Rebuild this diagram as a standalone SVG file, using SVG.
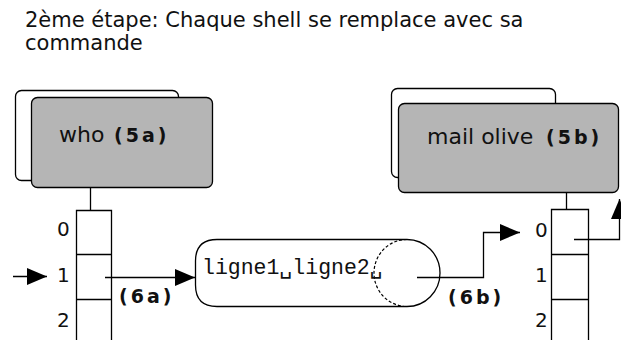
<svg xmlns="http://www.w3.org/2000/svg" width="621" height="340" viewBox="0 0 621 340">
<defs>
<style>
.t{font-family:"DejaVu Sans",Verdana,sans-serif;fill:#111}
.title{font-size:21px}
.node{font-size:22px}
.num{font-size:20px}
.b{font-family:"DejaVu Sans",Verdana,sans-serif;font-weight:bold;font-size:19px;letter-spacing:3px;fill:#111}
.mono{font-family:"Liberation Mono","DejaVu Sans Mono",monospace;font-size:21.5px;fill:#111}
.back{fill:#fff;stroke:#000;stroke-width:1.3}
.front{fill:#b5b5b5;stroke:#000;stroke-width:1.3}
.ln{fill:none;stroke:#000;stroke-width:1.3}
.dash{fill:none;stroke:#000;stroke-width:1.2;stroke-dasharray:3,2}
</style>
<marker id="ah" viewBox="0 0 20 17" refX="20" refY="8.5" markerWidth="20" markerHeight="17" markerUnits="userSpaceOnUse" orient="auto">
<path d="M0,0 L20,8.5 L0,17 Z" fill="#000"/>
</marker>
</defs>
<rect width="621" height="340" fill="#fff"/>
<text class="t title" x="25" y="27">2ème étape: Chaque shell se remplace avec sa</text>
<text class="t title" x="25" y="50">commande</text>

<g id="who">
<rect class="back" x="15.5" y="90.5" width="163" height="90" rx="6"/>
<rect class="front" x="31.5" y="97.5" width="181" height="90" rx="6"/>
<text class="t node" x="59" y="142">who</text>
<text class="b" x="114" y="142">(5a)</text>
</g>

<g id="fd-left">
<line class="ln" x1="90.5" y1="187" x2="90.5" y2="210"/>
<path class="ln" d="M76.5,345 V210.5 H111.5 V345 M76.5,254.5 H111.5 M76.5,299.5 H111.5"/>
<text class="t num" x="57" y="236">0</text>
<text class="t num" x="57" y="282">1</text>
<text class="t num" x="57" y="327">2</text>
</g>

<g id="pipe">
<path class="ln" d="M217,239.5 H407 M217,306.5 H407 M217,239.5 Q195.5,239.5 195.5,261 V285 Q195.5,306.5 217,306.5"/>
<path class="ln" d="M407,239.5 A33,33.5 0 0 1 407,306.5"/>
<path class="dash" d="M407,239.5 A33,33.5 0 0 0 407,306.5"/>
<text class="mono" x="202" y="274">ligne1␣ligne2␣</text>
</g>

<g id="mail">
<rect class="back" x="391.5" y="88.5" width="164" height="89" rx="6"/>
<rect class="front" x="398.5" y="103.5" width="220" height="89" rx="6"/>
<text class="t node" x="427" y="144">mail olive</text>
<text class="b" x="546" y="144">(5b)</text>
</g>

<g id="fd-right">
<line class="ln" x1="566.5" y1="193" x2="566.5" y2="209"/>
<path class="ln" d="M551.5,345 V209.5 H588.5 V345 M551.5,254.5 H588.5 M551.5,299.5 H588.5"/>
<text class="t num" x="535" y="237">0</text>
<text class="t num" x="535" y="282">1</text>
<text class="t num" x="535" y="327">2</text>
</g>

<g id="connectors">
<line class="ln" x1="13" y1="276.5" x2="47" y2="276.5" marker-end="url(#ah)"/>
<line class="ln" x1="105" y1="277.5" x2="195" y2="277.5" marker-end="url(#ah)"/>
<text class="b" x="119" y="303">(6a)</text>
<polyline class="ln" points="417,277.5 483.5,277.5 483.5,232.5 520,232.5" marker-end="url(#ah)"/>
<text class="b" x="448" y="304">(6b)</text>
<polyline class="ln" points="574,239.5 619.5,239.5 619.5,199" marker-end="url(#ah)"/>
</g>
</svg>
